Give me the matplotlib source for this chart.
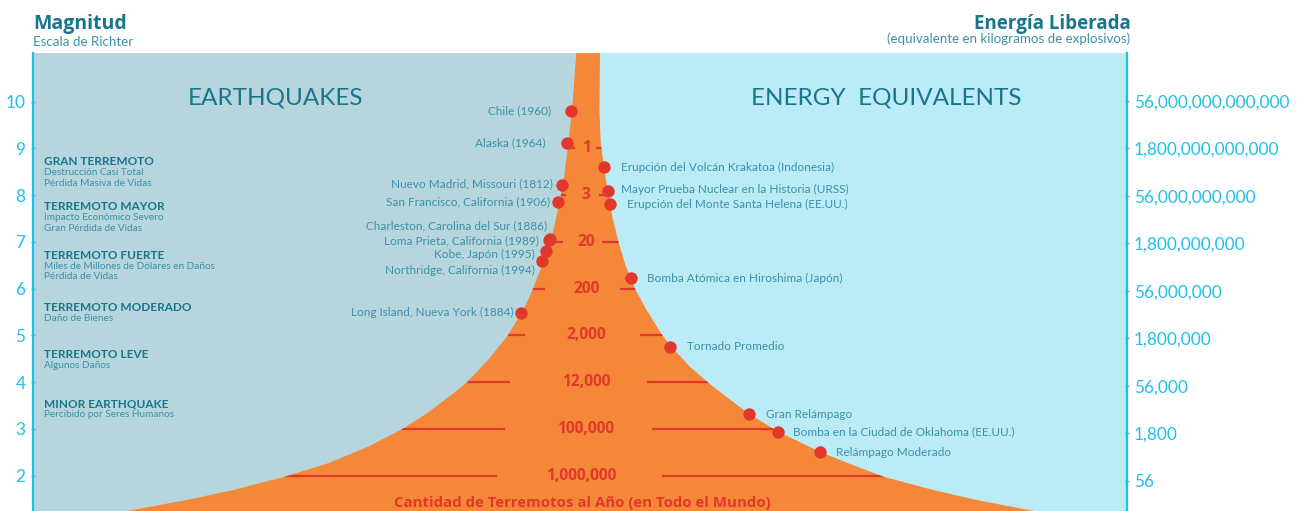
import numpy as np
import matplotlib
matplotlib.use("Agg")
import matplotlib.pyplot as plt
from matplotlib.patches import Polygon

plt.rcParams['font.family'] = ['Lato', 'DejaVu Sans']
BOLD_FAM = ['Open Sans', 'DejaVu Sans']

# ---------------- data ----------------
magnitude_ticks = [2, 3, 4, 5, 6, 7, 8, 9, 10]
energy_ticks = [56, 1.8e3, 5.6e4, 1.8e6, 5.6e7, 1.8e9, 5.6e10, 1.8e12, 5.6e13]
energy_labels = ['56', '1,800', '56,000', '1,800,000', '56,000,000',
                 '1,800,000,000', '56,000,000,000', '1,800,000,000,000',
                 '56,000,000,000,000']

count_magnitudes = [9, 8, 7, 6, 5, 4, 3, 2]
count_labels = ['1', '3', '20', '200', '2,000', '12,000', '100,000', '1,000,000']

# funnel (earthquakes per year) outline: magnitude vs horizontal position
funnel_left_mag = [11.04, 9.80, 9.11, 8.26, 7.83, 7.01, 6.58, 5.97, 5.54, 4.99, 4.50,
                   3.99, 3.69, 3.335, 2.99, 2.62, 2.265, 1.98, 1.694, 1.48, 1.245]
funnel_left_x = [576.3, 572.0, 568.3, 563.3, 559.3, 551.0, 543.5, 532.5, 523.3, 507.5, 489.0,
                 466.7, 449.0, 427.0, 401.7, 368.0, 328.0, 285.0, 233.3, 186.7, 127.0]
funnel_right_mag = [11.04, 9.80, 9.12, 8.61, 8.11, 7.54, 7.01, 6.47, 5.97, 5.54,
                    4.99, 4.75, 4.33, 3.99, 3.69, 3.31, 2.94, 2.51, 2.265, 1.98,
                    1.694, 1.48, 1.245]
funnel_right_x = [600.0, 599.5, 600.7, 604.0, 607.5, 612.3, 618.3, 626.0, 635.7, 646.7,
                  662.7, 671.7, 690.0, 708.3, 726.0, 750.0, 778.3, 820.0, 848.3, 883.3,
                  933.3, 976.7, 1034.0]

quake_names = ['Chile (1960)', 'Alaska (1964)', 'Nuevo Madrid, Missouri (1812)',
               'San Francisco, California (1906)', 'Charleston, Carolina del Sur (1886)',
               'Loma Prieta, California (1989)', 'Kobe, Japón (1995)',
               'Northridge, California (1994)', 'Long Island, Nueva York (1884)']
quake_mag = [9.80, 9.11, 8.22, 7.85, 7.06, 7.04, 6.81, 6.59, 5.48]
quake_x = [571.0, 567.3, 561.7, 558.3, 549.5, 549.0, 546.3, 541.7, 520.7]

energy_names = ['Erupción del Volcán Krakatoa (Indonesia)',
                'Mayor Prueba Nuclear en la Historia (URSS)',
                'Erupción del Monte Santa Helena (EE.UU.)',
                'Bomba Atómica en Hiroshima (Japón)', 'Tornado Promedio',
                'Gran Relámpago', 'Bomba en la Ciudad de Oklahoma (EE.UU.)',
                'Relámpago Moderado']
energy_mag = [8.60, 8.10, 7.81, 6.23, 4.75, 3.31, 2.94, 2.50]
energy_x = [604.3, 607.7, 610.0, 630.7, 670.0, 749.3, 778.0, 820.0]

categories = ['GRAN TERREMOTO', 'TERREMOTO MAYOR', 'TERREMOTO FUERTE',
              'TERREMOTO MODERADO', 'TERREMOTO LEVE', 'MINOR EARTHQUAKE']
category_notes = [['Destrucción Casi Total', 'Pérdida Masiva de Vidas'],
                  ['Impacto Económico Severo', 'Gran Pérdida de Vidas'],
                  ['Miles de Millones de Dólares en Daños', 'Pérdida de Vidas'],
                  ['Daño de Bienes'],
                  ['Algunos Daños'],
                  ['Percibido por Seres Humanos']]

# ---------------- style ----------------
W, H = 1298, 511
LEFT_BG = '#b7d5dd'
RIGHT_BG = '#bbebf6'
ORANGE = '#f58838'
RED = '#e2382b'
CYAN = '#22c0e8'
TEAL_DARK = '#17768b'
TEAL = '#3a92a8'

X0, X1, XC = 33, 1127, 587
Y_TOP = 53


def px2mag(y):
    return 10 - (y - 101.7) / 46.75


fig = plt.figure(figsize=(W / 100, H / 100), dpi=100)
ax = fig.add_axes([X0 / W, 0, (X1 - X0) / W, (H - Y_TOP) / H])
ax.set_xlim(X0, X1)
ax.set_ylim(px2mag(H), px2mag(Y_TOP))

ax.axvspan(X0, XC, color=LEFT_BG, zorder=0, lw=0)
ax.axvspan(XC, X1, color=RIGHT_BG, zorder=0, lw=0)

# funnel
poly_pts = list(zip(funnel_left_x, funnel_left_mag)) + \
    list(zip(funnel_right_x[::-1], funnel_right_mag[::-1]))
funnel = Polygon(poly_pts, closed=True, facecolor=ORANGE, edgecolor='none', zorder=1)
ax.add_patch(funnel)

# count lines, clipped to the funnel
left_inner = [575, 566, 562.7, 545, 525, 510, 505, 496.7]
right_inner = [596, 599, 601.7, 620, 640, 646.7, 651.7, 661.7]
count_text_x = [586.7, 586.3, 586.7, 586.2, 586.5, 586.3, 586.0, 581.5]
for m, li, ri, lab, tx in zip(count_magnitudes, left_inner, right_inner, count_labels, count_text_x):
    for xs in ([X0, li], [ri, X1]):
        ln, = ax.plot(xs, [m, m], color=RED, lw=1.6, zorder=2, solid_capstyle='butt')
        ln.set_clip_path(funnel)
    ax.text(tx, m, lab, color=RED, fontsize=11.2, fontweight='bold', family=BOLD_FAM,
            ha='center', va='center', zorder=3)

# dots and labels
ax.scatter(quake_x, quake_mag, s=80, color=RED, zorder=4, linewidths=0)
ax.scatter(energy_x, energy_mag, s=80, color=RED, zorder=4, linewidths=0)

quake_offsets = [(-20, 0), (-21.6, -0.6), (-9, -1.4), (-8.3, 0), (-2.8, -13.8),
                 (-9.7, 1), (-11.3, 3.6), (-6.7, 9.7), (-7.4, -0.5)]
for name, x, m, (dx, dy) in zip(quake_names, quake_x, quake_mag, quake_offsets):
    ax.annotate(name, (x, m), xytext=(dx, -dy), textcoords='offset pixels',
                ha='right', va='center', color=TEAL, fontsize=8.5, zorder=5)

energy_offsets = [(16.4, 0), (13, -0.7), (16.7, 0.7), (16.6, 0.3), (16.7, -0.6),
                  (16.4, -0.3), (14.7, 0), (16, 0)]
for name, x, m, (dx, dy) in zip(energy_names, energy_x, energy_mag, energy_offsets):
    ax.annotate(name, (x, m), xytext=(dx, -dy), textcoords='offset pixels',
                ha='left', va='center', color=TEAL, fontsize=8.5, zorder=5)

# category descriptions
header_px = [161.7, 206.7, 255.0, 307.3, 354.0, 403.7]
for cat, notes, yp in zip(categories, category_notes, header_px):
    ax.text(44, px2mag(yp), cat, color=TEAL_DARK, fontsize=8.5, fontweight='bold',
            ha='left', va='center', zorder=5)
    for i, note in enumerate(notes):
        ax.text(44, px2mag(yp + 11 + 10.8 * i), note, color=TEAL, fontsize=7.2,
                ha='left', va='center', zorder=5)

# panel titles
ax.text(275, px2mag(104), 'EARTHQUAKES', color=TEAL_DARK, fontsize=17.5,
        fontweight='normal', ha='center', va='baseline', zorder=5)
ax.text(886.5, px2mag(104), 'ENERGY  EQUIVALENTS', color=TEAL_DARK, fontsize=17.5,
        fontweight='normal', ha='center', va='baseline', zorder=5)

ax.text(582, px2mag(503), 'Cantidad de Terremotos al Año (en Todo el Mundo)',
        color=RED, fontsize=10.8, fontweight='bold', family=BOLD_FAM,
        ha='center', va='center', zorder=5)

# left axis
for s in ['top', 'right', 'bottom']:
    ax.spines[s].set_visible(False)
ax.spines['left'].set_color(CYAN)
ax.spines['left'].set_linewidth(1.6)
ax.set_xticks([])
ax.set_yticks(magnitude_ticks)
ax.set_yticklabels([str(t) for t in magnitude_ticks])
ax.tick_params(axis='y', colors=CYAN, labelcolor=CYAN, labelsize=12.4,
               length=3, width=1, direction='inout', pad=4)

# right axis (energy)
ax2 = ax.twinx()
ax2.set_yscale('log')
ax2.set_ylim(10 ** 0.801, 10 ** 15.254)
ax2.set_yticks(energy_ticks)
ax2.set_yticklabels(energy_labels)
ax2.yaxis.set_minor_locator(matplotlib.ticker.NullLocator())
for s in ['top', 'left', 'bottom']:
    ax2.spines[s].set_visible(False)
ax2.spines['right'].set_color(CYAN)
ax2.spines['right'].set_linewidth(1.6)
ax2.tick_params(axis='y', colors=CYAN, labelcolor=CYAN, labelsize=12.4,
                length=3, width=1, direction='inout', pad=3.5)

# header titles
fig.text(X0 / W, 1 - 29.3 / H, 'Magnitud', color=TEAL_DARK, fontsize=14,
         fontweight='bold', family=BOLD_FAM, ha='left', va='baseline')
fig.text(X0 / W, 1 - 45.7 / H, 'Escala de Richter', color=TEAL, fontsize=9.6,
         ha='left', va='baseline')
fig.text(1131 / W, 1 - 29.3 / H, 'Energía Liberada', color=TEAL_DARK, fontsize=13.5,
         fontweight='bold', family=BOLD_FAM, ha='right', va='baseline')
fig.text(1130 / W, 1 - 42.7 / H, '(equivalente en kilogramos de explosivos)',
         color=TEAL, fontsize=9.6, ha='right', va='baseline')

fig.savefig('out.png', dpi=100)
